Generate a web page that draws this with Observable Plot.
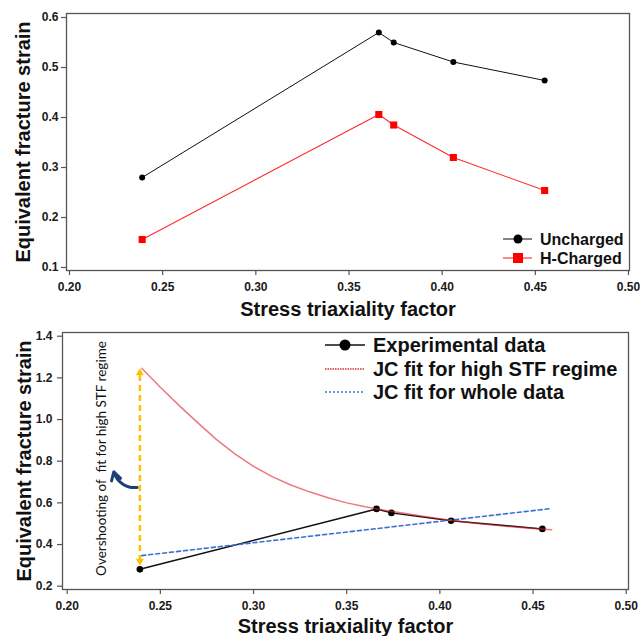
<!DOCTYPE html>
<html>
<head>
<meta charset="utf-8">
<script src="https://cdn.jsdelivr.net/npm/d3@7"></script>
<script src="https://cdn.jsdelivr.net/npm/@observablehq/plot@0.6"></script>
<style>
  html, body { margin: 0; padding: 0; background: #fff; }
  #wrap { position: relative; width: 640px; height: 636px; overflow: hidden; background: #fff; }
  #top { position: absolute; left: 0; top: 0; }
  #bot { position: absolute; left: 0; top: 318px; }
  #legend { position: absolute; left: 0; top: 0; pointer-events: none; }
  #legend text { font-family: "Liberation Sans", Arial, sans-serif; font-weight: bold; fill: #111; }
</style>
</head>
<body>
<div id="wrap">
  <div id="bot"></div>
  <div id="top"></div>
  <svg id="legend" width="640" height="636"></svg>
</div>
<script>
// ---------- data ----------
const stf = [0.239, 0.366, 0.374, 0.406, 0.455];
const uncharged = [0.280, 0.570, 0.550, 0.511, 0.474];
const hCharged = [0.156, 0.406, 0.385, 0.320, 0.254];
const expStrain = [0.281, 0.571, 0.552, 0.514, 0.475];

const jcHighX = [0.240,0.250,0.260,0.270,0.280,0.290,0.300,0.310,0.320,0.330,0.340,0.350,0.360,0.370,0.380,0.390,0.400,0.410,0.420,0.430,0.440,0.450,0.460];
const jcHighY = [1.246,1.155,1.068,0.985,0.905,0.835,0.775,0.726,0.686,0.653,0.625,0.600,0.581,0.565,0.551,0.537,0.524,0.512,0.501,0.492,0.484,0.477,0.471];

const jcWholeX = [0.240, 0.460];
const jcWholeY = [0.347, 0.573];

const overshootX = 0.239;
const overshootHeadY = [0.321, 1.224];   // arrow-head centres (bottom, top)
const overshootHeadRot = [180, 0];
const curvedArrow = [{x1: 0.2375, y1: 0.674, x2: 0.2250, y2: 0.749}];
const annotation = "Overshooting of  fit for high STF regime";
const annotationX = 0.2184, annotationY = 0.813;

const xTicks = [0.20, 0.25, 0.30, 0.35, 0.40, 0.45, 0.50];
const yTicksTop = [0.1, 0.2, 0.3, 0.4, 0.5, 0.6];
const yTicksBottom = [0.2, 0.4, 0.6, 0.8, 1.0, 1.2, 1.4];

const xTitle = "Stress triaxiality factor";
const yTitle = "Equivalent fracture strain";
const topLegend = ["Uncharged", "H-Charged"];
const bottomLegend = ["Experimental data", "JC fit for high STF regime", "JC fit for whole data"];

// ---------- tables ----------
const topData = stf.map((x, i) => ({x, u: uncharged[i], h: hCharged[i]}));
const expData = stf.map((x, i) => ({x, y: expStrain[i]}));
const jcHigh = jcHighX.map((x, i) => ({x, y: jcHighY[i]}));
const jcWhole = jcWholeX.map((x, i) => ({x, y: jcWholeY[i]}));
const heads = overshootHeadY.map((y, i) => ({x: overshootX, y, rot: overshootHeadRot[i]}));

const FONT = "Liberation Sans, Arial, sans-serif";
const AX = "#555";

function axes(yTicks, yPad) {
  return [
    Plot.frame({stroke: AX, strokeWidth: 1.3}),
    Plot.axisX({ticks: xTicks, tickFormat: d3.format(".2f"), tickSize: 5, tickPadding: 7,
      fontSize: 12, fontWeight: "bold", label: null, stroke: AX, strokeWidth: 1.2, fill: "#1a1a1a"}),
    Plot.axisY({ticks: yTicks, tickFormat: d3.format(".1f"), tickSize: 5, tickPadding: yPad,
      fontSize: 12, fontWeight: "bold", label: null, stroke: AX, strokeWidth: 1.2, fill: "#1a1a1a"}),
  ];
}

// ---------- top chart ----------
const topPlot = Plot.plot({
  width: 640, height: 330,
  marginLeft: 66, marginRight: 11, marginTop: 13, marginBottom: 60,
  style: {fontFamily: FONT, color: "#222", background: "transparent", overflow: "visible"},
  x: {domain: [0.19839, 0.50054]},
  y: {domain: [0.094, 0.608]},
  marks: [
    ...axes(yTicksTop, 3),
    Plot.line(topData, {x: "x", y: "u", stroke: "#111", strokeWidth: 1}),
    Plot.line(topData, {x: "x", y: "h", stroke: "#ff2a2a", strokeWidth: 1.1}),
    Plot.dot(topData, {x: "x", y: "u", r: 3, fill: "black"}),
    Plot.dot(topData, {x: "x", y: "h", r: 4, symbol: "square", fill: "#ff0000"}),
    Plot.text([xTitle], {frameAnchor: "bottom", dy: 39, lineAnchor: "middle", textAnchor: "middle", fontSize: 20, fontWeight: "bold", fill: "#111"}),
    Plot.text([yTitle], {frameAnchor: "left", dx: -43, rotate: -90, lineAnchor: "middle", textAnchor: "middle", fontSize: 20, fontWeight: "bold", fill: "#111"})
  ]
});
document.getElementById("top").appendChild(topPlot);

// ---------- bottom chart ----------
const botPlot = Plot.plot({
  width: 640, height: 318,
  marginLeft: 62, marginRight: 12, marginTop: 14, marginBottom: 47,
  style: {fontFamily: FONT, color: "#222", background: "transparent", overflow: "visible"},
  x: {domain: [0.19748, 0.50123]},
  y: {domain: [0.1842, 1.4178]},
  marks: [
    ...axes(yTicksBottom, 5),
    Plot.line(expData, {x: "x", y: "y", stroke: "#111", strokeWidth: 1.5}),
    Plot.dot(expData, {x: "x", y: "y", r: 3.3, fill: "black"}),
    Plot.line(jcWhole, {x: "x", y: "y", stroke: "#3b6fd6", strokeWidth: 1.6, strokeDasharray: "4,3"}),
    Plot.line(jcHigh, {x: "x", y: "y", stroke: "#e0202a", strokeOpacity: 0.6, strokeWidth: 1.5}),
    Plot.link([overshootHeadY], {x1: () => overshootX, x2: () => overshootX, y1: d => d[0], y2: d => d[1],
      stroke: "#ffc000", strokeWidth: 2.5, strokeDasharray: "6,4"}),
    Plot.dot(heads, {x: "x", y: "y", rotate: "rot", symbol: "triangle", r: 3, fill: "#ffc000"}),
    Plot.arrow(curvedArrow, {x1: "x1", y1: "y1", x2: "x2", y2: "y2", bend: 40, stroke: "#1c3f78", strokeWidth: 3, headLength: 7}),
    Plot.text([annotation], {x: () => annotationX, y: () => annotationY, rotate: -90, fontSize: 13.5, fontFamily: "Lato", fill: "#111"}),
    Plot.text([xTitle], {frameAnchor: "bottom", dy: 37, lineAnchor: "middle", textAnchor: "middle", fontSize: 20, fontWeight: "bold", fill: "#111"}),
    Plot.text([yTitle], {frameAnchor: "left", dx: -38, rotate: -90, lineAnchor: "middle", textAnchor: "middle", fontSize: 20, fontWeight: "bold", fill: "#111"})
  ]
});
document.getElementById("bot").appendChild(botPlot);

// ---------- legends ----------
const lg = d3.select("#legend");
// top legend
lg.append("line").attr("x1", 503).attr("x2", 532).attr("y1", 239).attr("y2", 239).attr("stroke", "#333").attr("stroke-width", 1.2);
lg.append("circle").attr("cx", 518).attr("cy", 239).attr("r", 4.5).attr("fill", "black");
lg.append("text").attr("x", 540).attr("y", 239).attr("dy", "0.35em").attr("font-size", 16).text(topLegend[0]);
lg.append("line").attr("x1", 503).attr("x2", 532).attr("y1", 258).attr("y2", 258).attr("stroke", "#ff3a3a").attr("stroke-width", 1.2);
lg.append("rect").attr("x", 513).attr("y", 253).attr("width", 10).attr("height", 10).attr("fill", "#ff0000");
lg.append("text").attr("x", 540).attr("y", 258).attr("dy", "0.35em").attr("font-size", 16).text(topLegend[1]);
// bottom legend
lg.append("line").attr("x1", 325).attr("x2", 365).attr("y1", 345).attr("y2", 345).attr("stroke", "#111").attr("stroke-width", 1.5);
lg.append("circle").attr("cx", 345).attr("cy", 345).attr("r", 5.5).attr("fill", "black");
lg.append("text").attr("x", 373).attr("y", 345).attr("dy", "0.35em").attr("font-size", 20).text(bottomLegend[0]);
lg.append("line").attr("x1", 325).attr("x2", 364).attr("y1", 369).attr("y2", 369).attr("stroke", "#e03030").attr("stroke-width", 1.5).attr("stroke-dasharray", "1.5,1");
lg.append("text").attr("x", 373).attr("y", 369).attr("dy", "0.35em").attr("font-size", 20).text(bottomLegend[1]);
lg.append("line").attr("x1", 325).attr("x2", 364).attr("y1", 392).attr("y2", 392).attr("stroke", "#3b6fd6").attr("stroke-width", 1.5).attr("stroke-dasharray", "2,2");
lg.append("text").attr("x", 373).attr("y", 392).attr("dy", "0.35em").attr("font-size", 20).text(bottomLegend[2]);
</script>
</body>
</html>
